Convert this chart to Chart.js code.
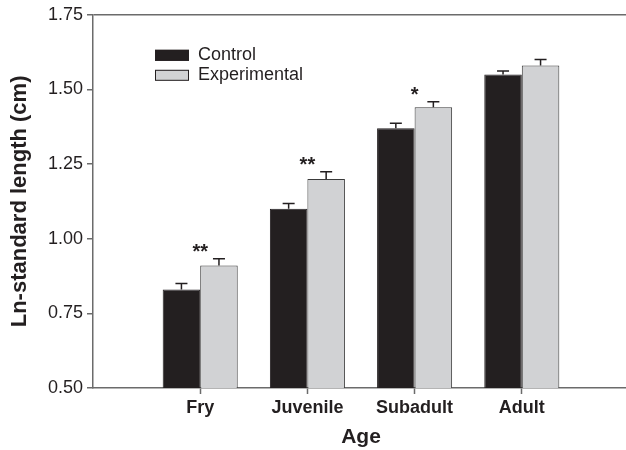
<!DOCTYPE html>
<html>
<head>
<meta charset="utf-8">
<script src="https://cdn.jsdelivr.net/npm/chart.js@4/dist/chart.umd.min.js"></script>
<style>
  html, body { margin: 0; padding: 0; background: #fff; overflow: hidden; }
  #wrap { width: 632px; height: 450px; position: relative; }
</style>
</head>
<body>
<div id="wrap"><canvas id="myChart"></canvas></div>
<script>
// Ln-standard length (cm) by age, means and upper error (SE)
const ageGroups = ['Fry', 'Juvenile', 'Subadult', 'Adult'];
const controlMeans = [0.83, 1.10, 1.37, 1.55];
const controlErr = [0.02, 0.018, 0.017, 0.012];
const experimentalMeans = [0.91, 1.20, 1.44, 1.58];
const experimentalErr = [0.023, 0.024, 0.019, 0.02];
const significance = ['**', '**', '*', ''];
const yTicks = [0.50, 0.75, 1.00, 1.25, 1.50, 1.75];

const axisColor = '#6b6b6b';
const inkColor = '#231f20';
const fontFamily = 'Arial, "Liberation Sans", Helvetica, sans-serif';

// empty slots at both ends so the groups sit like in the original figure
const labels = [''].concat(ageGroups, ['']);
const pad = arr => [null].concat(arr, [null]);
const padErr = arr => [0].concat(arr, [0]);

// error bars (upward only) + significance stars
const errorBarPlugin = {
  id: 'errorBars',
  afterDatasetsDraw(chart) {
    const ctx = chart.ctx;
    const y = chart.scales.y;
    ctx.save();
    ctx.strokeStyle = inkColor;
    ctx.lineWidth = 1.5;
    chart.data.datasets.forEach((ds, di) => {
      const meta = chart.getDatasetMeta(di);
      meta.data.forEach((bar, i) => {
        const v = ds.data[i];
        if (v === null) return;
        const top = y.getPixelForValue(v + ds.errors[i]);
        ctx.beginPath();
        ctx.moveTo(bar.x, bar.y);
        ctx.lineTo(bar.x, top);
        ctx.moveTo(bar.x - 6, top);
        ctx.lineTo(bar.x + 6, top);
        ctx.stroke();
      });
    });
    // stars above the experimental bars, centred on the group
    const x = chart.scales.x;
    ctx.fillStyle = inkColor;
    ctx.font = 'bold 20px ' + fontFamily;
    ctx.textAlign = 'center';
    ctx.textBaseline = 'middle';
    ageGroups.forEach((g, i) => {
      if (!significance[i]) return;
      const top = y.getPixelForValue(experimentalMeans[i] + experimentalErr[i]);
      ctx.fillText(significance[i], x.getPixelForValue(i + 1), top - 6);
    });
    ctx.restore();
  }
};

// legend drawn inside the plot, upper left
const innerLegendPlugin = {
  id: 'innerLegend',
  afterDraw(chart) {
    const ctx = chart.ctx;
    const area = chart.chartArea;
    ctx.save();
    ctx.font = '18px ' + fontFamily;
    ctx.textBaseline = 'middle';
    ctx.textAlign = 'left';
    chart.data.datasets.forEach((ds, i) => {
      const bx = area.left + 62;
      const by = area.top + 35 + i * 20;
      ctx.fillStyle = ds.backgroundColor;
      ctx.fillRect(bx, by, 34, 11);
      ctx.strokeStyle = inkColor;
      ctx.lineWidth = 1;
      ctx.strokeRect(bx + 0.5, by + 0.5, 33, 10);
      ctx.fillStyle = inkColor;
      ctx.fillText(ds.label, bx + 43, by + 5.5);
    });
    ctx.restore();
  }
};

const config = {
  type: 'bar',
  data: {
    labels: labels,
    datasets: [
      {
        label: 'Control',
        data: pad(controlMeans),
        errors: padErr(controlErr),
        backgroundColor: '#231f20',
        borderColor: '#231f20',
        borderWidth: 1,
      },
      {
        label: 'Experimental',
        data: pad(experimentalMeans),
        errors: padErr(experimentalErr),
        backgroundColor: '#d1d2d4',
        borderColor: '#3a3a3a',
        borderWidth: 1,
      },
    ]
  },
  options: {
    responsive: true,
    maintainAspectRatio: false,
    animation: false,
    layout: { padding: { left: 0, right: 0, top: 14, bottom: 0 } },
    datasets: { bar: { categoryPercentage: 0.7, barPercentage: 1.0 } },
    plugins: {
      legend: { display: false },
      tooltip: { enabled: false },
    },
    scales: {
      x: {
        type: 'category',
        offset: false,
        border: { display: true, color: axisColor, width: 1.5 },
        grid: {
          offset: false,
          drawOnChartArea: false,
          tickLength: 6,
          tickColor: ctx => (ctx.index === 0 || ctx.index === labels.length - 1) ? 'rgba(0,0,0,0)' : axisColor,
          tickWidth: 1.5,
        },
        ticks: {
          color: inkColor,
          font: { family: fontFamily, size: 18, weight: 'bold' },
          padding: 3,
          maxRotation: 0,
          autoSkip: false,
        },
        title: {
          display: true,
          text: 'Age',
          color: inkColor,
          font: { family: fontFamily, size: 21, weight: 'bold' },
          padding: { top: 0, bottom: 0 },
        },
        afterFit: s => { s.height = 62; },
      },
      y: {
        type: 'linear',
        min: 0.5,
        max: 1.75,
        afterBuildTicks: s => { s.ticks = yTicks.map(v => ({ value: v })); },
        border: { display: true, color: axisColor, width: 1.5 },
        grid: {
          color: ctx => (ctx.tick && ctx.tick.value === 1.75) ? axisColor : 'rgba(0,0,0,0)',
          lineWidth: 1.5,
          tickColor: axisColor,
          tickLength: 6,
          tickWidth: 1.5,
        },
        ticks: {
          color: inkColor,
          font: { family: fontFamily, size: 18 },
          padding: 4,
          callback: v => Number(v).toFixed(2),
        },
        title: {
          display: true,
          text: 'Ln-standard length (cm)',
          color: inkColor,
          font: { family: fontFamily, size: 22, weight: 'bold' },
          padding: { top: 7, bottom: 0 },
        },
        afterFit: s => { s.width = 93; },
      }
    }
  },
  plugins: [errorBarPlugin, innerLegendPlugin]
};

new Chart(document.getElementById('myChart').getContext('2d'), config);
</script>
</body>
</html>
